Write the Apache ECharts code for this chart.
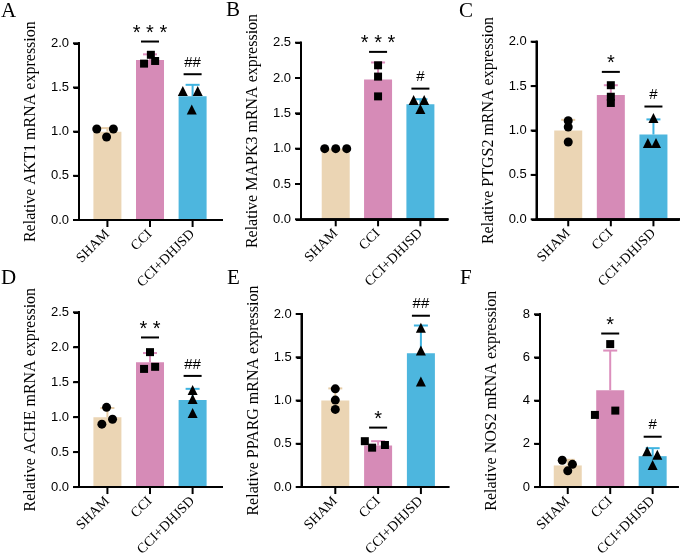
<!DOCTYPE html>
<html>
<head>
<meta charset="utf-8">
<script src="https://cdn.jsdelivr.net/npm/echarts@6/dist/echarts.min.js"></script>
<style>
html,body{margin:0;padding:0;background:#fff;}
#chart{width:685px;height:559px;}
</style>
</head>
<body>
<div id="chart"></div>
<script>
// ---------- data ----------
const categories = ['SHAM', 'CCI', 'CCI+DHJSD'];
const panelLabels = ['A', 'B', 'C', 'D', 'E', 'F'];
const genes = ['AKT1', 'MAPK3', 'PTGS2', 'ACHE', 'PPARG', 'NOS2'];
const yMaxs = [2, 2.5, 2, 2.5, 2, 8];
const yIntervals = [0.5, 0.5, 0.5, 0.5, 0.5, 2];
const yDecimals = [1, 1, 1, 1, 1, 0];

const meanAKT1 = [1.00, 1.81, 1.40];
const sdAKT1 = [0.04, 0.065, 0.13];
const ptsAKT1 = [[1.03, 1.03, 0.94], [1.77, 1.87, 1.80], [1.46, 1.46, 1.25]];
const jitAKT1 = [[-0.25, 0.14, -0.02], [-0.14, 0.02, 0.12], [-0.23, 0.12, -0.02]];
const sigAKT1 = ['', '* * *', '##'];
const sigLevelAKT1 = [null, 2.02, 1.65];

const meanMAPK3 = [1.00, 1.98, 1.63];
const sdMAPK3 = [0.0, 0.24, 0.07];
const ptsMAPK3 = [[1.0, 1.0, 1.0], [2.18, 2.02, 1.74], [1.69, 1.69, 1.56]];
const jitMAPK3 = [[-0.26, 0, 0.26], [0, 0, 0], [-0.16, 0.09, 0]];
const sigMAPK3 = ['', '* * *', '#'];
const sigLevelMAPK3 = [null, 2.37, 1.85];

const meanPTGS2 = [1.00, 1.40, 0.955];
const sdPTGS2 = [0.12, 0.11, 0.17];
const ptsPTGS2 = [[1.11, 1.04, 0.87], [1.51, 1.38, 1.31], [1.14, 0.86, 0.86]];
const jitPTGS2 = [[0, 0, 0], [0, 0, 0], [0, -0.13, 0.06]];
const sigPTGS2 = ['', '*', '#'];
const sigLevelPTGS2 = [null, 1.66, 1.27];

const meanACHE = [1.00, 1.787, 1.245];
const sdACHE = [0.13, 0.13, 0.16];
const ptsACHE = [[0.90, 1.14, 0.97], [1.69, 1.93, 1.72], [1.26, 1.39, 1.06]];
const jitACHE = [[-0.13, -0.02, 0.12], [-0.14, 0, 0.12], [0, 0, 0]];
const sigACHE = ['', '* *', '##'];
const sigLevelACHE = [null, 2.14, 1.59];

const meanPPARG = [1.00, 0.48, 1.547];
const sdPPARG = [0.14, 0.05, 0.32];
const ptsPPARG = [[1.135, 1.005, 0.897], [0.53, 0.455, 0.486], [1.84, 1.577, 1.22]];
const jitPPARG = [[0, 0, 0], [-0.31, -0.14, 0.16], [0, 0, 0]];
const sigPPARG = ['', '*', '##'];
const sigLevelPPARG = [null, 0.687, 1.98];

const meanNOS2 = [1.00, 4.48, 1.43];
const sdNOS2 = [0.26, 1.84, 0.37];
const ptsNOS2 = [[1.24, 1.05, 0.75], [6.62, 3.34, 3.54], [1.66, 1.50, 1.02]];
const jitNOS2 = [[-0.13, 0.11, 0], [0, -0.36, 0.12], [-0.13, 0.11, 0]];
const sigNOS2 = ['', '*', '#'];
const sigLevelNOS2 = [null, 7.11, 2.33];

// ---------- layout / style ----------
const panelData = [
  [meanAKT1, sdAKT1, ptsAKT1, jitAKT1, sigAKT1, sigLevelAKT1],
  [meanMAPK3, sdMAPK3, ptsMAPK3, jitMAPK3, sigMAPK3, sigLevelMAPK3],
  [meanPTGS2, sdPTGS2, ptsPTGS2, jitPTGS2, sigPTGS2, sigLevelPTGS2],
  [meanACHE, sdACHE, ptsACHE, jitACHE, sigACHE, sigLevelACHE],
  [meanPPARG, sdPPARG, ptsPPARG, jitPPARG, sigPPARG, sigLevelPPARG],
  [meanNOS2, sdNOS2, ptsNOS2, jitNOS2, sigNOS2, sigLevelNOS2]
];
// [left, top, right, bottom] pixel boxes of plot areas
const boxes = [
  [79, 43.3, 222, 220],
  [301, 42.7, 447.5, 219.3],
  [536.7, 41.7, 679, 219.3],
  [79, 312.3, 222, 491],
  [301.7, 314, 448.3, 492.3],
  [540, 314.3, 677.7, 491.7]
];
// empty space left of first bar / right of last bar, in category steps
const xPads = [[0.667, 0.69], [0.82, 0.64], [0.74, 0.6], [0.667, 0.69], [0.785, 0.64], [0.654, 0.59]];
const letterPos = [[-4, -4], [221, -5], [454, -4], [-4, 263], [222, 263], [455, 263]];

const barColors = ['#ebd5b4', '#d68bb7', '#4db6de'];
const errColors = ['#e6cda8', '#dc8fbd', '#3fb3e0'];
const symbols = ['circle', 'rect', 'triangle'];
const SERIF = 'Liberation Serif';
const SANS = 'Liberation Sans';

const chart = echarts.init(document.getElementById('chart'));

const grid = [], xAxis = [], yAxis = [], series = [], title = [];
const panelPos = [], panelXMax = [];

boxes.forEach((b, i) => {
  const off = xPads[i][0];
  const pos = [off, off + 1, off + 2];
  const xMax = off + 2 + xPads[i][1];
  panelPos.push(pos);
  panelXMax.push(xMax);
  grid.push({left: b[0], top: b[1], width: b[2] - b[0], height: b[3] - b[1]});
  xAxis.push({
    type: 'value', gridIndex: i, min: 0, max: xMax,
    splitLine: {show: false},
    axisLine: {show: true, lineStyle: {color: '#000', width: 2}},
    axisTick: {show: false},
    axisLabel: {
      show: true, customValues: pos, rotate: 45, margin: 12,
      formatter: v => categories[Math.round(v - off)] || '',
      fontFamily: SERIF, fontSize: 14, color: '#000'
    }
  });
  yAxis.push({
    type: 'value', gridIndex: i, min: 0, max: yMaxs[i], interval: yIntervals[i],
    splitLine: {show: false},
    axisLine: {show: true, lineStyle: {color: '#000', width: 2}},
    axisTick: {show: true, length: 5, lineStyle: {color: '#000', width: 2}},
    axisLabel: {
      margin: 10, fontFamily: SANS, fontSize: 13, color: '#000',
      formatter: v => v.toFixed(yDecimals[i])
    },
    name: 'Relative ' + genes[i] + ' mRNA expression',
    nameLocation: 'middle', nameGap: 40,
    nameTextStyle: {fontFamily: SERIF, fontSize: 16, color: '#000'}
  });
  title.push({
    text: panelLabels[i], left: letterPos[i][0], top: letterPos[i][1],
    textStyle: {fontFamily: SERIF, fontSize: 21, fontWeight: 'normal', color: '#000'}
  });

  const [means, sds, pts, jit, sigs, sigLevels] = panelData[i];

  // axis lines and category ticks through the axes' scales
  series.push({
    type: 'custom', xAxisIndex: i, yAxisIndex: i, z: 6, clip: false,
    data: [[1, 1]],
    renderItem: (params, api) => {
      const o = api.coord([0, 0]);
      const r = api.coord([xMax, 0]);
      const t = api.coord([0, yMaxs[i]]);
      const st = {stroke: '#000', lineWidth: 2};
      const ch = [
        {type: 'line', shape: {x1: o[0] - 1, y1: o[1], x2: r[0] + 1, y2: o[1]}, style: st},
        {type: 'line', shape: {x1: o[0], y1: o[1], x2: o[0], y2: t[1] - 1}, style: st}
      ];
      const n = Math.round(yMaxs[i] / yIntervals[i]);
      for (let k = 0; k <= n; k++) {
        const p = api.coord([0, k * yIntervals[i]]);
        ch.push({type: 'line', shape: {x1: p[0] - 6, y1: p[1], x2: p[0], y2: p[1]}, style: st});
      }
      pos.forEach(xv => {
        const p = api.coord([xv, 0]);
        ch.push({type: 'line', shape: {x1: p[0], y1: p[1], x2: p[0], y2: p[1] + 7}, style: st});
      });
      return {type: 'group', children: ch};
    }
  });

  series.push({
    type: 'bar', xAxisIndex: i, yAxisIndex: i, barWidth: 28, z: 2,
    data: means.map((m, k) => ({value: [pos[k], m], itemStyle: {color: barColors[k]}}))
  });

  series.push({
    type: 'custom', xAxisIndex: i, yAxisIndex: i, z: 3,
    data: means.map((m, k) => [pos[k], m, sds[k]]),
    renderItem: (params, api) => {
      const x = api.value(0), m = api.value(1), s = api.value(2);
      if (!(s > 0)) return {type: 'group', children: []};
      const p0 = api.coord([x, m]);
      const p1 = api.coord([x, m + s]);
      const c = errColors[params.dataIndex];
      return {
        type: 'group', children: [
          {type: 'line', shape: {x1: p0[0], y1: p0[1], x2: p1[0], y2: p1[1]}, style: {stroke: c, lineWidth: 2}},
          {type: 'line', shape: {x1: p1[0] - 7, y1: p1[1], x2: p1[0] + 7, y2: p1[1]}, style: {stroke: c, lineWidth: 2}}
        ]
      };
    }
  });

  const scatterData = [];
  pts.forEach((grp, k) => grp.forEach((v, j) => {
    scatterData.push({value: [pos[k] + jit[k][j], v], symbol: symbols[k],
      symbolSize: k === 0 ? 9 : (k === 1 ? 8 : 10)});
  }));
  series.push({
    type: 'scatter', xAxisIndex: i, yAxisIndex: i, z: 4,
    itemStyle: {color: '#000', opacity: 1},
    data: scatterData
  });

  const sigData = [];
  sigLevels.forEach((lv, k) => { if (lv !== null) sigData.push([pos[k], lv, k]); });
  series.push({
    type: 'custom', xAxisIndex: i, yAxisIndex: i, z: 5, clip: false,
    data: sigData,
    renderItem: (params, api) => {
      const x = api.value(0), lv = api.value(1), idx = api.value(2);
      const p = api.coord([x, lv]);
      const txt = sigs[idx];
      const isStar = txt.indexOf('*') >= 0;
      return {
        type: 'group', children: [
          {type: 'line', shape: {x1: p[0] - 9, y1: p[1], x2: p[0] + 9, y2: p[1]}, style: {stroke: '#000', lineWidth: 2}},
          {type: 'text', x: p[0], y: p[1] + (isStar ? 2 : -4),
            style: {text: txt, align: 'center', verticalAlign: 'bottom',
              font: (isStar ? '20px ' : '15px ') + SANS, fill: '#000'}}
        ]
      };
    }
  });
});

try {
  chart.setOption({animation: false, title, grid, xAxis, yAxis, series});
} catch (e) { console.error(e); }

// extra safety: axis lines as graphic elements placed via the axes' scales
try {
  const g = [];
  const lineEl = (x1, y1, x2, y2) => ({type: 'line', z: 100,
    shape: {x1, y1, x2, y2}, style: {stroke: '#000', lineWidth: 2}});
  boxes.forEach((b, i) => {
    const o = chart.convertToPixel({gridIndex: i}, [0, 0]);
    const r = chart.convertToPixel({gridIndex: i}, [panelXMax[i], 0]);
    const t = chart.convertToPixel({gridIndex: i}, [0, yMaxs[i]]);
    g.push(lineEl(o[0] - 1, o[1], r[0] + 1, r[1]));
    g.push(lineEl(o[0], o[1], t[0], t[1] - 1));
  });
  chart.setOption({graphic: g});
} catch (e) { console.error(e); }
</script>
</body>
</html>
